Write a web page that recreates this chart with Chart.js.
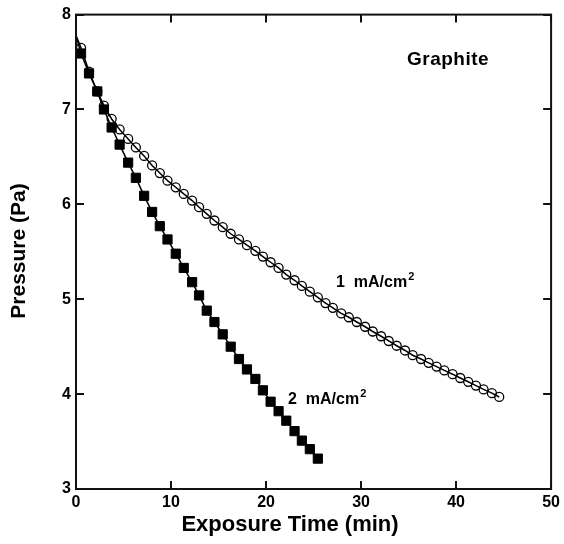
<!DOCTYPE html>
<html>
<head>
<meta charset="utf-8">
<script src="https://cdn.jsdelivr.net/npm/chart.js@4.4.1/dist/chart.umd.min.js"></script>
<style>
    body { margin: 0; background: #fff; }
    canvas { display: block; }
</style>
</head>
<body>
<canvas id="pressure-chart" width="564" height="544"></canvas>
<script>
// exposure time (min) and pressure (Pa)
const timeSquares = [0.53, 1.37, 2.24, 2.94, 3.75, 4.59, 5.49, 6.30, 7.17, 8.01, 8.82, 9.63, 10.50, 11.34, 12.22, 12.95,
    13.76, 14.57, 15.44, 16.28, 17.15, 17.99, 18.88, 19.67, 20.48, 21.32, 22.13, 23.00, 23.77, 24.61, 25.45];
const pressureSquares = [7.59, 7.38, 7.19, 7.00, 6.81, 6.63, 6.44, 6.28, 6.09, 5.92, 5.77, 5.63, 5.48, 5.33, 5.18, 5.04,
    4.88, 4.76, 4.63, 4.50, 4.37, 4.26, 4.16, 4.04, 3.92, 3.82, 3.72, 3.61, 3.51, 3.42, 3.32];

const timeCircles = [0.53, 1.37, 2.24, 2.94, 3.75, 4.59, 5.49, 6.30, 7.17, 8.01, 8.82, 9.63, 10.50, 11.34, 12.22, 12.95,
    13.76, 14.57, 15.44, 16.28, 17.15, 17.99, 18.88, 19.67, 20.48, 21.32, 22.13, 23.00, 23.77, 24.61, 25.45,
    26.26, 27.03, 27.91, 28.71, 29.55, 30.43, 31.23, 32.11, 32.91, 33.75, 34.63, 35.43, 36.31, 37.11, 37.95,
    38.76, 39.63, 40.44, 41.28, 42.09, 42.89, 43.77, 44.54];
const pressureCircles = [7.65, 7.40, 7.19, 7.04, 6.90, 6.79, 6.69, 6.60, 6.51, 6.41, 6.33, 6.25, 6.18, 6.11, 6.04, 5.97,
    5.90, 5.83, 5.76, 5.69, 5.63, 5.57, 5.51, 5.45, 5.39, 5.33, 5.26, 5.20, 5.14, 5.08, 5.02,
    4.96, 4.91, 4.85, 4.81, 4.76, 4.71, 4.66, 4.61, 4.56, 4.51, 4.46, 4.41, 4.37, 4.33, 4.29,
    4.25, 4.21, 4.17, 4.13, 4.09, 4.05, 4.01, 3.97];

// both curves start from the same pressure at t = 0
const startTime = 0;
const startPressure = 7.78;

const xTicks = [0, 10, 20, 30, 40, 50];
const yTicks = [3, 4, 5, 6, 7, 8];

const FONT = "'Liberation Sans', Arial, Helvetica, sans-serif";

function toPoints(times, values) {
    const pts = [{x: startTime, y: startPressure}];
    times.forEach((t, i) => pts.push({x: t, y: values[i]}));
    return pts;
}

function markerSizes(times, r) {
    return [0].concat(times.map(() => r));
}

function drawSuper(ctx, text, sup, x, y, size) {
    ctx.font = "bold " + size + "px " + FONT;
    ctx.fillText(text, x, y);
    const w = ctx.measureText(text).width;
    ctx.font = "bold " + Math.round(size * 0.7) + "px " + FONT;
    ctx.fillText(sup, x + w + 1, y - size * 0.42);
}

const framePlugin = {
    id: "frame",
    afterDraw(chart) {
        const ctx = chart.ctx;
        const {left, right, top, bottom} = chart.chartArea;
        const xs = chart.scales.x;
        const ys = chart.scales.y;

        ctx.save();
        ctx.strokeStyle = "#111";
        ctx.lineWidth = 2;
        ctx.strokeRect(left, top, right - left, bottom - top);

        // inward ticks on all four sides
        ctx.beginPath();
        xTicks.forEach(v => {
            const px = Math.round(xs.getPixelForValue(v));
            ctx.moveTo(px, bottom); ctx.lineTo(px, bottom - 8);
            ctx.moveTo(px, top); ctx.lineTo(px, top + 8);
        });
        yTicks.forEach(v => {
            const py = Math.round(ys.getPixelForValue(v));
            ctx.moveTo(left, py); ctx.lineTo(left + 8, py);
            ctx.moveTo(right, py); ctx.lineTo(right - 8, py);
        });
        ctx.stroke();

        ctx.fillStyle = "#000";
        ctx.textBaseline = "alphabetic";

        // axis titles
        ctx.textAlign = "center";
        ctx.font = "bold 22px " + FONT;
        ctx.fillText("Exposure Time (min)", 290, 531);

        ctx.save();
        ctx.translate(25, 251);
        ctx.rotate(-Math.PI / 2);
        ctx.font = "bold 21px " + FONT;
        ctx.fillText("Pressure (Pa)", 0, 0);
        ctx.restore();

        // labels inside the plot
        ctx.textAlign = "left";
        ctx.font = "bold 19px " + FONT;
        ctx.letterSpacing = "0.5px";
        ctx.fillText("Graphite", 407, 65);
        ctx.letterSpacing = "0px";
        drawSuper(ctx, "1  mA/cm", "2", 336, 287, 16);
        drawSuper(ctx, "2  mA/cm", "2", 288, 404, 16);
        ctx.restore();
    }
};

document.addEventListener("DOMContentLoaded", () => {
    const canvas = document.getElementById("pressure-chart");

    new Chart(canvas, {
        type: "scatter",
        data: {
            datasets: [{
                label: "1 mA/cm2",
                data: toPoints(timeCircles, pressureCircles),
                showLine: true,
                borderColor: "#000",
                borderWidth: 1.5,
                pointStyle: "circle",
                pointRadius: markerSizes(timeCircles, 4.5),
                pointBorderWidth: 1.3,
                pointBorderColor: "#000",
                pointBackgroundColor: "rgba(0,0,0,0)"
            }, {
                label: "2 mA/cm2",
                data: toPoints(timeSquares, pressureSquares),
                showLine: true,
                borderColor: "#000",
                borderWidth: 1.5,
                pointStyle: "rect",
                pointRadius: markerSizes(timeSquares, 6.5),
                pointBorderWidth: 1,
                pointBorderColor: "#000",
                pointBackgroundColor: "#000"
            }]
        },
        options: {
            responsive: false,
            animation: false,
            layout: {
                padding: {top: 13, right: 12, left: 0, bottom: 0}
            },
            plugins: {
                legend: {display: false},
                tooltip: {enabled: false}
            },
            scales: {
                x: {
                    type: "linear",
                    min: 0,
                    max: 50,
                    afterBuildTicks: s => { s.ticks = xTicks.map(v => ({value: v})); },
                    afterFit: s => { s.height = 55; },
                    grid: {display: false, drawTicks: false},
                    border: {display: false},
                    ticks: {
                        padding: 4,
                        color: "#000",
                        font: {family: FONT, size: 16, weight: "bold"}
                    }
                },
                y: {
                    type: "linear",
                    min: 3,
                    max: 8,
                    afterBuildTicks: s => { s.ticks = yTicks.map(v => ({value: v})); },
                    afterFit: s => { s.width = 76; },
                    grid: {display: false, drawTicks: false},
                    border: {display: false},
                    ticks: {
                        padding: 5,
                        color: "#000",
                        font: {family: FONT, size: 16, weight: "bold"}
                    }
                }
            }
        },
        plugins: [framePlugin]
    });
});
</script>
</body>
</html>
